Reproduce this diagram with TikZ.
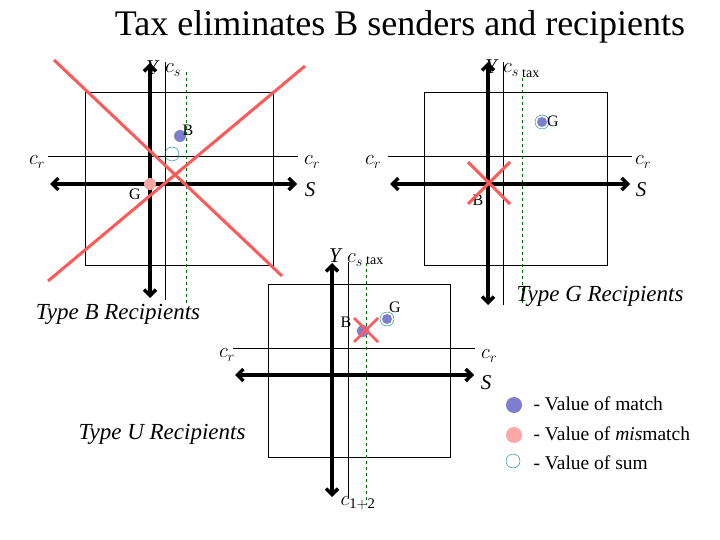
\documentclass[tikz,border=0pt]{standalone}
\usepackage{fontspec}
\setmainfont{Liberation Serif}
\usetikzlibrary{arrows.meta}
\begin{document}
\begin{tikzpicture}[x=1pt,y=-1pt,
 axis/.style={line width=3.5pt,{Straight Barb[length=6pt,width=12pt]}-{Straight Barb[length=6pt,width=12pt]}},
 thin/.style={line width=0.8pt},
 gdash/.style={dashed,green!45!black,line width=0.6pt},
 lab/.style={font=\fontsize{21}{22}\selectfont\itshape,inner sep=0},
 sm/.style={font=\fontsize{16}{16}\selectfont,inner sep=0},
 mdot/.style={circle,fill=blue!45!gray!70,inner sep=0,minimum size=12pt},
 rdot/.style={circle,fill=red!35,inner sep=0,minimum size=12pt},
 sdot/.style={circle,draw=teal,inner sep=0,minimum width=14pt,minimum height=12pt},
 cross/.style={draw=red!65,line width=3pt},
 ty/.style={font=\fontsize{23}{24}\selectfont\itshape,inner sep=0}]
\useasboundingbox (0,0) rectangle (720,540);
\node[font=\fontsize{36}{38}\selectfont] (title) at (400,27) {Tax eliminates B senders and recipients};
% panel 1
\draw[thin] (85,92) rectangle (273,265);
\draw[thin] (48,156) -- (298,156);
\draw[thin] (165,62) -- (165,300);
\draw[gdash] (186,72) -- (186,305);
\coordinate (aL) at (50,184); \coordinate (aR) at (297,184);
\coordinate (aT) at (150,63); \coordinate (aB) at (150,298);
\draw[axis] (aL) -- (aR); \draw[axis] (aT) -- (aB);
\node[lab] (y1) at (152,68) {Y}; \node[lab] (cs1) at (173,70) {$c_s$};
\node[lab] (cl1) at (37,162) {$c_r$}; \node[lab] (cr1) at (312,162) {$c_r$};
\node[lab] (s1) at (310,190) {S};
\node[mdot] (b1) at (180,136) {}; \node[sm] (bl1) at (188,130) {B};
\node[sdot] (sum1) at (172,154) {};
\node[rdot] (g1) at (150,184) {}; \node[sm] (gl1) at (135,194) {G};
\coordinate (x1a) at (54,60); \coordinate (x1b) at (282,276);
\coordinate (x1c) at (305,66); \coordinate (x1d) at (48,281);
\draw[cross] (x1a) -- (x1b); \draw[cross] (x1c) -- (x1d);
\node[ty] (tb) at (118,314) {Type B Recipients};
% panel 2
\draw[thin] (424,92) rectangle (607,265);
\draw[thin] (388,156) -- (632,156);
\draw[thin] (503,62) -- (503,305);
\draw[gdash] (522,78) -- (522,305);
\coordinate (bL) at (390,184); \coordinate (bR) at (630,184);
\coordinate (bT) at (488,62); \coordinate (bB) at (488,305);
\draw[axis] (bL) -- (bR); \draw[axis] (bT) -- (bB);
\node[lab] (y2) at (491,67) {Y}; \node[lab] (cs2) at (511,70) {$c_s$};
\node[sm,anchor=west] (tax2) at (522,74) {\fontsize{14}{14}\selectfont tax};
\node[lab] (cl2) at (373,162) {$c_r$}; \node[lab] (cr2) at (643,162) {$c_r$};
\node[lab] (s2) at (641,190) {S};
\node[sdot] (sum2) at (542,122) {}; \node[mdot,minimum size=10pt] (g2) at (542,122) {};
\node[sm] (gl2) at (553,121) {G};
\node[sm] (bl2) at (478,200) {B};
\coordinate (x2a) at (468,162); \coordinate (x2b) at (510,204);
\coordinate (x2c) at (510,162); \coordinate (x2d) at (468,204);
\draw[cross] (x2a) -- (x2b); \draw[cross] (x2c) -- (x2d);
\node[ty] (tg) at (600,296) {Type G Recipients};
% panel 3
\draw[thin] (268,284) rectangle (450,457);
\draw[thin] (233,348) -- (475,348);
\draw[thin] (348,262) -- (348,498);
\draw[gdash] (366,263) -- (366,505);
\coordinate (cL) at (235,375); \coordinate (cR) at (474,375);
\coordinate (cT) at (332,263); \coordinate (cB) at (332,497);
\draw[axis] (cL) -- (cR); \draw[axis] (cT) -- (cB);
\node[lab] (y3) at (335,256) {Y}; \node[lab] (cs3) at (355,260) {$c_s$};
\node[sm,anchor=west] (tax3) at (366,261) {\fontsize{14}{14}\selectfont tax};
\node[lab] (cl3) at (227,355) {$c_r$}; \node[lab] (cr3) at (489,356) {$c_r$};
\node[lab] (s3) at (486,383) {S};
\node[mdot] (b3) at (363,331) {}; \node[sm] (bl3) at (346,322) {B};
\node[sdot] (sum3) at (387,319) {}; \node[mdot,minimum size=10pt] (g3) at (387,319) {};
\node[sm] (gl3) at (395,307) {G};
\coordinate (x3a) at (354,318); \coordinate (x3b) at (378,342);
\coordinate (x3c) at (378,318); \coordinate (x3d) at (354,342);
\draw[cross,line width=2.5pt] (x3a) -- (x3b); \draw[cross,line width=2.5pt] (x3c) -- (x3d);
\node[lab] (c12) at (358,503) {$c_{\mathrm{1+2}}$};
\node[ty] (tu) at (162,434) {Type U Recipients};
% legend
\node[mdot,minimum width=16pt,minimum height=13pt] (lm) at (514,405) {};
\node[rdot,minimum width=16pt,minimum height=13pt] (lr) at (514,435) {};
\node[sdot,minimum width=14pt,minimum height=11pt] (ls) at (513,461) {};
\node[anchor=west,font=\fontsize{19.5}{20}\selectfont] (tm) at (530,404) {- Value of match};
\node[anchor=west,font=\fontsize{19.5}{20}\selectfont] (tr) at (530,434) {- Value of \textit{mis}match};
\node[anchor=west,font=\fontsize{19.5}{20}\selectfont] (ts) at (530,463) {- Value of sum};
\end{tikzpicture}
\end{document}
